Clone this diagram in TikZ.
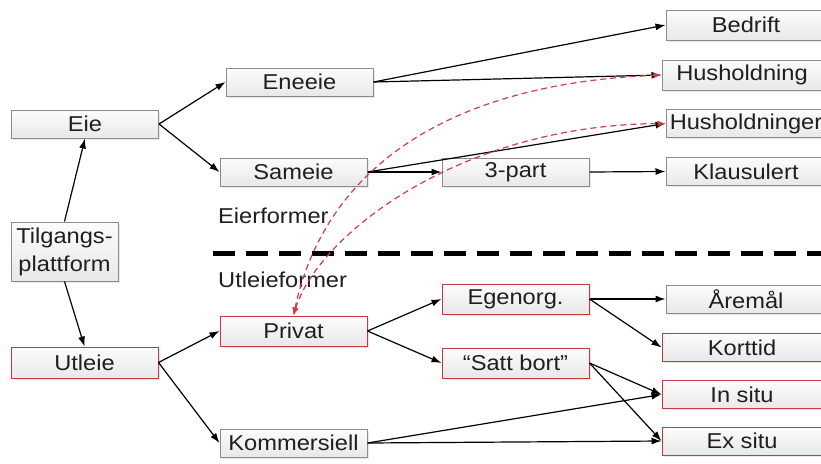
\documentclass[tikz,border=0pt]{standalone}
\usepackage{fontspec}
\setmainfont[FakeStretch=1.1]{Liberation Sans}
\usetikzlibrary{arrows.meta,shadows}
\definecolor{boxgray}{RGB}{140,140,140}
\definecolor{boxred}{RGB}{200,55,65}
\definecolor{dashred}{RGB}{210,60,75}
\definecolor{boxtop}{RGB}{252,252,252}
\definecolor{boxbot}{RGB}{232,232,232}
\begin{document}
\begin{tikzpicture}[x=1pt,y=-1pt,
  box/.style={draw=boxgray, line width=1pt, top color=boxtop, bottom color=boxbot, inner sep=2pt,
    minimum height=28pt, minimum width=147pt, text=black!88,
    font=\fontsize{21.5}{28}\selectfont,
    drop shadow={opacity=0.18,shadow xshift=1.5pt,shadow yshift=-1.5pt}},
  rbox/.style={box, draw=boxred},
  rw/.style={minimum width=160pt},
  lbl/.style={anchor=base west, inner sep=0pt, text=black!88, font=\fontsize{21.5}{28}\selectfont},
  arr/.style={-{Latex[length=10pt,width=7pt]}, line width=1.2pt, black},
  link/.style={dashred, dash pattern=on 6pt off 4pt, line width=1.2pt,
    {Latex[length=8pt,width=6pt]}-{Latex[length=8pt,width=6pt]}},
  sep/.style={line width=5pt, dash pattern=on 22pt off 11pt, black}]
\useasboundingbox (0,0) rectangle (821,463);
\clip (0,0) rectangle (821,463);
\fill[white] (0,0) rectangle (821,463);

% left
\node[box] (eie) at (85,124) {Eie};
\node[box, minimum width=107pt, minimum height=59pt, align=center] (tilg) at (64.5,251.5) {Tilgangs-\\plattform};
\node[rbox, minimum height=31pt] (utl) at (84.5,362.5) {Utleie};
% middle
\node[box] (ene) at (299.5,82) {Eneeie};
\node[box] (sam) at (293.5,172) {Sameie};
\node[rbox, minimum height=30pt] (priv) at (293.5,331) {Privat};
\node[box] (kom) at (293.5,443) {Kommersiell};
\node[box] (tre) at (515.5,172) {3-part};
\node[rbox, minimum height=30pt] (ego) at (515.5,299) {Egenorg.};
\node[rbox, minimum height=30pt] (satt) at (515.5,363) {“Satt bort”};
% right
\node[box, rw, minimum height=30pt] (bed) at (746,25) {Bedrift};
\node[box, rw, minimum height=30pt] (hus) at (742,75) {Husholdning};
\node[box, rw] (husr) at (746,123.5) {Husholdninger};
\node[box, rw] (kla) at (746,171.5) {Klausulert};
\node[box, rw] (are) at (746,299) {Åremål};
\node[rbox, rw] (kort) at (742,347.5) {Korttid};
\node[rbox, rw] (ins) at (742,394.5) {In situ};
\node[rbox, rw] (exs) at (742,441) {Ex situ};

% labels
\node[lbl] (eier) at (218,223) {Eierformer};
\node[lbl] (utleief) at (218,287) {Utleieformer};

% separator
\draw[sep] (213,253) -- (840,253);

% arrows
\draw[arr] (tilg.north) -- (eie.south);
\draw[arr] (tilg.south) -- (utl.north);
\draw[arr] (eie.east) -- (ene.west);
\draw[arr] (eie.east) -- (sam.west);
\draw[arr] (utl.east) -- (priv.west);
\draw[arr] (utl.east) -- (kom.west);
\draw[arr] (ene.east) -- (bed.west);
\draw[arr] (ene.east) -- (hus.west);
\draw[arr] (sam.east) -- (husr.west);
\draw[arr] (sam.east) -- (tre.west);
\draw[arr] (tre.east) -- (kla.west);
\draw[arr] (priv.east) -- (ego.west);
\draw[arr] (priv.east) -- (satt.west);
\draw[arr] (ego.east) -- (are.west);
\draw[arr] (ego.east) -- (kort.west);
\draw[arr] (satt.east) -- (ins.west);
\draw[arr] (satt.east) -- (exs.west);
\draw[arr] (kom.east) -- (ins.west);
\draw[arr] (kom.east) -- (exs.west);

% red dashed links
\draw[link] (priv.north) .. controls (320,190) and (420,85) .. (hus.west);
\draw[link] (priv.north) .. controls (318,235) and (460,125) .. (husr.west);
\end{tikzpicture}
\end{document}
